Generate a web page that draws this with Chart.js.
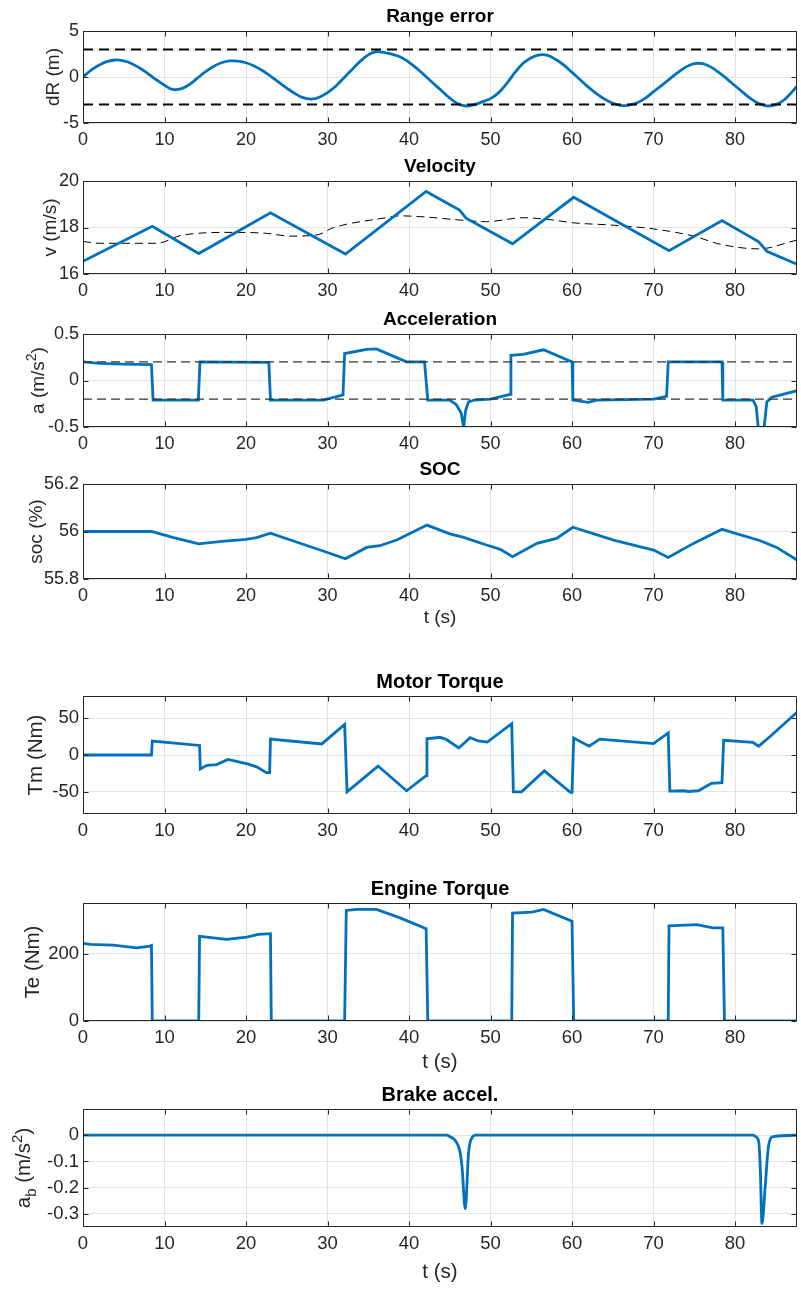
<!DOCTYPE html>
<html>
<head>
<meta charset="utf-8">
<script src="https://cdn.jsdelivr.net/npm/chart.js@4.4.1/dist/chart.umd.min.js"></script>
<style>
  html, body { margin: 0; padding: 0; background: #fff; }
  #fig { position: relative; width: 801px; height: 1290px; }
  #fig canvas { position: absolute; left: 0; }
</style>
</head>
<body>
<div id="fig"></div>
<script>
// ---- data ----
const T_MAX = 87.6;
const timeTicks = [0, 10, 20, 30, 40, 50, 60, 70, 80];

const rangeT = [0,1,2,3,4,5,6,7,8,9,10,11,12,13,14,15,16,17,18,19,20,21,22,23,24,25,26,27,28,29,30,31,32,33,34,35,36,37,38,39,40,41,42,43,44,45,46,47,48,49,50,51,52,53,54,55,56,57,58,59,60,61,62,63,64,65,66,67,68,69,70,71,72,73,74,75,76,77,78,79,80,81,82,83,84,85,86,87,87.6];
const rangeErr = [0,0.75,1.3,1.7,1.85,1.75,1.45,0.95,0.35,-0.3,-0.9,-1.35,-1.3,-0.85,-0.15,0.55,1.15,1.55,1.75,1.72,1.55,1.2,0.7,0.1,-0.55,-1.2,-1.8,-2.25,-2.4,-2.2,-1.7,-1.0,-0.1,0.8,1.7,2.4,2.75,2.65,2.45,2.15,1.6,0.9,0.1,-0.7,-1.5,-2.3,-2.9,-3.15,-3.0,-2.7,-2.35,-1.7,-0.7,0.5,1.5,2.1,2.4,2.35,1.9,1.3,0.5,-0.3,-1.1,-1.8,-2.4,-2.85,-3.1,-3.05,-2.8,-2.3,-1.6,-0.9,-0.2,0.5,1.1,1.45,1.45,1.1,0.5,-0.2,-0.95,-1.7,-2.4,-2.9,-3.15,-3.0,-2.5,-1.6,-1.0];
const rangeLimit = 3;
const rangeTicks = [-5, 0, 5];

const velT = [0, 8.5, 14.2, 23.0, 32.2, 42.1, 46.2, 47.0, 52.7, 60.2, 71.9, 78.4, 82.9, 83.9, 87.6];
const velocity = [16.55, 18.05, 16.88, 18.63, 16.86, 19.55, 18.75, 18.4, 17.3, 19.3, 17.0, 18.3, 17.38, 16.98, 16.42];
const velRefT = [0, 2.1, 9.0, 12.3, 18.4, 22.5, 25.4, 28.7, 30.7, 36.8, 38.9, 41.3, 47, 49.5, 54, 57, 60.2, 65, 70, 74.9, 78.2, 82.9, 87.6];
const velRef = [17.4, 17.32, 17.32, 17.68, 17.79, 17.75, 17.63, 17.68, 17.99, 18.4, 18.5, 18.47, 18.3, 18.25, 18.42, 18.35, 18.2, 18.1, 17.94, 17.63, 17.28, 17.08, 17.46];
const velTicks = [16, 18, 20];

const accT = [0, 2, 5, 8.4, 8.6, 14.15, 14.35, 22.8, 23.0, 29.5, 31.9, 32.1, 34.8, 36.0, 38.9, 39.7, 41.9, 42.3, 45.0, 45.8, 46.4, 46.7, 46.95, 47.3, 48, 50, 52.4, 52.5, 54, 56.5, 60.0, 60.1, 62, 63, 70, 71.6, 71.8, 78.4, 78.5, 82.2, 82.6, 82.9, 83.5, 83.9, 84.5, 87.6];
const accel = [0.2, 0.185, 0.175, 0.17, -0.21, -0.21, 0.2, 0.195, -0.21, -0.21, -0.155, 0.29, 0.335, 0.34, 0.23, 0.2, 0.2, -0.21, -0.21, -0.26, -0.35, -0.5, -0.32, -0.23, -0.21, -0.2, -0.15, 0.27, 0.28, 0.33, 0.2, -0.21, -0.235, -0.21, -0.2, -0.17, 0.2, 0.2, -0.21, -0.21, -0.28, -0.56, -0.56, -0.23, -0.18, -0.11];
const accelLimit = 0.2;
const accTicks = [-0.5, 0, 0.5];

const socT = [0, 8.4, 11, 14.2, 17, 20, 21.3, 23, 26, 29.1, 32.2, 34.8, 36.4, 38.5, 42.2, 45, 46.7, 49.5, 51.2, 52.7, 55.7, 58.1, 60.1, 65.1, 70, 71.8, 74.9, 78.4, 83.1, 85.1, 87.6];
const soc = [56.0, 56.0, 55.975, 55.948, 55.958, 55.967, 55.974, 55.993, 55.958, 55.922, 55.885, 55.933, 55.94, 55.964, 56.027, 55.99, 55.975, 55.943, 55.925, 55.894, 55.95, 55.971, 56.018, 55.964, 55.922, 55.891, 55.95, 56.009, 55.961, 55.933, 55.88];
const socTicks = [55.8, 56, 56.2];

const tmT = [0, 8.4, 8.5, 14.3, 14.4, 15.2, 16.4, 17.8, 20.3, 21.3, 22.5, 22.9, 23.0, 29.3, 32.1, 32.4, 36.2, 39.7, 42.1, 42.2, 43.8, 44.6, 46.1, 47.5, 48.5, 49.6, 52.6, 52.8, 53.8, 56.6, 59.8, 60.0, 60.2, 62.1, 63.4, 70, 71.8, 72.0, 73.7, 74.3, 75.5, 77.1, 78.4, 78.6, 82.2, 82.9, 84.3, 87.6];
const motorTorque = [0, 0, 19, 13, -19, -14, -13, -6, -12.5, -16, -24, -24, 21.5, 15, 41.5, -50, -15, -48.5, -28, 22, 24, 21, 9.5, 23.5, 19, 17.5, 42.5, -50, -50, -21.5, -50.5, -50.5, 23, 12, 21.5, 15.5, 30, -49, -48.5, -49.5, -48.5, -38.5, -37.5, 20, 17, 12, 25, 58];
const tmTicks = [-50, 0, 50];

const teT = [0, 0.9, 3.7, 6.6, 8.2, 8.4, 8.5, 14.2, 14.3, 17.6, 20.1, 21.5, 23.0, 23.1, 32.1, 32.3, 33.6, 36.0, 38.9, 42.1, 42.3, 52.6, 52.7, 55.1, 56.5, 60.0, 60.2, 71.8, 71.9, 75.3, 77.3, 78.5, 78.7, 87.6];
const engineTorque = [230, 227, 225, 217, 222, 224, 0, 0, 251, 242, 249, 257, 259, 0, 0, 328, 331, 331, 306, 274, 0, 0, 320, 323, 331, 296, 0, 0, 282, 286, 276, 276, 0, 0];
const teTicks = [0, 200];

const brakeT = [0, 44.6, 45.0, 45.6, 46.2, 46.5, 46.9, 47.3, 47.7, 48.2, 82.2, 82.5, 82.9, 83.1, 83.3, 83.7, 84.1, 84.7, 87.6];
const brakeAccel = [0, 0, -0.005, -0.018, -0.056, -0.12, -0.281, -0.068, -0.011, 0, 0, -0.005, -0.024, -0.13, -0.337, -0.195, -0.043, -0.005, 0];
const brakeTicks = [-0.3, -0.2, -0.1, 0];

// ---- styling ----
const BLUE = '#0072BD';
const AXIS = '#262626';
const GRID = '#e3e3e3';
const FONT = '"Liberation Sans", Arial, sans-serif';
const PAD_TOP = 30, XAXIS_H = 70;

function pts(ts, vs) { return ts.map((t, i) => ({ x: t, y: vs[i] })); }

function series(ts, vs, extra) {
  return Object.assign({
    data: pts(ts, vs), borderColor: BLUE, borderWidth: 2.8,
    pointRadius: 0, tension: 0, fill: false
  }, extra || {});
}

function hline(v, color, width, dash) {
  return {
    data: [{ x: 0, y: v }, { x: T_MAX, y: v }], borderColor: color,
    borderWidth: width, borderDash: dash, pointRadius: 0, fill: false
  };
}

// box, inward ticks, title and axis labels
const axesDeco = {
  id: 'axesDeco',
  afterDatasetsDraw(chart, args, o) {
    const { ctx, chartArea: a, scales } = chart;
    const L = Math.round(a.left) + 0.5, R = Math.round(a.right) - 0.5;
    const T = Math.round(a.top) + 0.5, B = Math.round(a.bottom) - 0.5;
    ctx.save();
    ctx.strokeStyle = AXIS;
    ctx.lineWidth = 1;
    ctx.beginPath();
    ctx.rect(L, T, R - L, B - T);
    const tl = 5;
    timeTicks.forEach(v => {
      const x = Math.round(scales.x.getPixelForValue(v)) + 0.5;
      ctx.moveTo(x, B); ctx.lineTo(x, B - tl);
      ctx.moveTo(x, T); ctx.lineTo(x, T + tl);
    });
    o.yticks.forEach(v => {
      const y = Math.round(scales.y.getPixelForValue(v)) + 0.5;
      ctx.moveTo(L, y); ctx.lineTo(L + tl, y);
      ctx.moveTo(R, y); ctx.lineTo(R - tl, y);
    });
    ctx.stroke();
    ctx.restore();
  },
  afterDraw(chart, args, o) {
    const { ctx, chartArea: a } = chart;
    const cx = (a.left + a.right) / 2;
    ctx.save();
    ctx.fillStyle = '#000';
    ctx.textAlign = 'center';
    ctx.textBaseline = 'middle';
    ctx.font = 'bold ' + o.titleSize + 'px ' + FONT;
    ctx.fillText(o.title, cx, a.top - 14);

    ctx.fillStyle = AXIS;
    if (o.xlabel) {
      ctx.font = o.labelSize + 'px ' + FONT;
      ctx.fillText(o.xlabel, cx, a.bottom + o.xlabelDy);
    }
    // rotated y label with optional super/subscripts
    const fs = o.labelSize;
    const parts = o.ylabel.map(p => {
      const small = p[1] === 'sup' || p[1] === 'sub';
      const f = (small ? Math.round(fs * 0.72) : fs) + 'px ' + FONT;
      ctx.font = f;
      return { text: p[0], kind: p[1], font: f, w: ctx.measureText(p[0]).width };
    });
    const total = parts.reduce((s, p) => s + p.w, 0);
    ctx.translate(o.ylabelX, (a.top + a.bottom) / 2);
    ctx.rotate(-Math.PI / 2);
    ctx.textAlign = 'left';
    ctx.textBaseline = 'alphabetic';
    let x = -total / 2;
    const base = fs * 0.36;
    parts.forEach(p => {
      ctx.font = p.font;
      let dy = 0;
      if (p.kind === 'sup') dy = -fs * 0.42;
      if (p.kind === 'sub') dy = fs * 0.25;
      ctx.fillText(p.text, x, base + dy);
      x += p.w;
    });
    ctx.restore();
  }
};

function makePanel(p, datasets) {
  const h = (p.bottom - p.top) + PAD_TOP + XAXIS_H;
  const canvas = document.createElement('canvas');
  canvas.width = 801; canvas.height = h;
  canvas.style.width = '801px'; canvas.style.height = h + 'px';
  canvas.style.top = (p.top - PAD_TOP) + 'px';
  document.getElementById('fig').appendChild(canvas);
  const tickFont = { family: FONT, size: p.tickSize };
  new Chart(canvas.getContext('2d'), {
    type: 'line',
    data: { datasets },
    options: {
      responsive: false,
      animation: false,
      events: [],
      layout: { padding: { top: PAD_TOP, right: 4, left: 0, bottom: 0 } },
      plugins: {
        legend: { display: false },
        tooltip: { enabled: false },
        axesDeco: {
          title: p.title, ylabel: p.ylabel, ylabelX: p.ylabelX, yticks: p.yticks,
          xlabel: p.xlabel, xlabelDy: p.xlabelDy, labelSize: p.labelSize, titleSize: p.titleSize
        }
      },
      scales: {
        x: {
          type: 'linear', min: 0, max: T_MAX,
          afterBuildTicks: s => { s.ticks = timeTicks.map(v => ({ value: v })); },
          afterFit: s => { s.height = XAXIS_H; },
          ticks: { font: tickFont, color: AXIS, padding: 6, maxRotation: 0, autoSkip: false },
          grid: { color: GRID, drawTicks: false },
          border: { display: false }
        },
        y: {
          type: 'linear', min: p.ymin, max: p.ymax,
          afterBuildTicks: s => { s.ticks = p.yticks.map(v => ({ value: v })); },
          afterFit: s => { s.width = 83; },
          ticks: {
            font: tickFont, color: AXIS, padding: 4, autoSkip: false,
            callback: v => String(+v.toFixed(3))
          },
          grid: { color: GRID, drawTicks: false },
          border: { display: false }
        }
      }
    },
    plugins: [axesDeco]
  });
}

const TOP_STYLE = { labelSize: 19, tickSize: 18, titleSize: 19 };
const BOT_STYLE = { labelSize: 20.5, tickSize: 18.5, titleSize: 20 };

makePanel(Object.assign({ top: 31, bottom: 123, ymin: -5, ymax: 5, yticks: rangeTicks, title: 'Range error',
  ylabel: [['dR (m)']], ylabelX: 52 }, TOP_STYLE),
  [hline(rangeLimit, '#000', 2, [10, 6]), hline(-rangeLimit, '#000', 2, [10, 6]),
   series(rangeT, rangeErr, { tension: 0.4 })]);

makePanel(Object.assign({ top: 181, bottom: 274, ymin: 16, ymax: 20, yticks: velTicks, title: 'Velocity',
  ylabel: [['v (m/s)']], ylabelX: 49 }, TOP_STYLE),
  [series(velT, velocity),
   series(velRefT, velRef, { borderColor: '#000', borderWidth: 1, borderDash: [8, 5], cubicInterpolationMode: 'monotone' })]);

makePanel(Object.assign({ top: 334, bottom: 427, ymin: -0.5, ymax: 0.5, yticks: accTicks, title: 'Acceleration',
  ylabel: [['a (m/s'], ['2', 'sup'], [')']], ylabelX: 37 }, TOP_STYLE),
  [hline(accelLimit, '#333', 1.3, [9, 5]), hline(-accelLimit, '#333', 1.3, [9, 5]),
   series(accT, accel)]);

makePanel(Object.assign({ top: 484, bottom: 579, ymin: 55.8, ymax: 56.2, yticks: socTicks, title: 'SOC',
  ylabel: [['soc (%)']], ylabelX: 35, xlabel: 't (s)', xlabelDy: 39 }, TOP_STYLE),
  [series(socT, soc)]);

makePanel(Object.assign({ top: 696, bottom: 814, ymin: -80, ymax: 80, yticks: tmTicks, title: 'Motor Torque',
  ylabel: [['Tm (Nm)']], ylabelX: 35 }, BOT_STYLE),
  [series(tmT, motorTorque)]);

makePanel(Object.assign({ top: 903, bottom: 1021, ymin: 0, ymax: 350, yticks: teTicks, title: 'Engine Torque',
  ylabel: [['Te (Nm)']], ylabelX: 32, xlabel: 't (s)', xlabelDy: 41 }, BOT_STYLE),
  [series(teT, engineTorque)]);

makePanel(Object.assign({ top: 1109, bottom: 1227, ymin: -0.35, ymax: 0.1, yticks: brakeTicks, title: 'Brake accel.',
  ylabel: [['a'], ['b', 'sub'], [' (m/s'], ['2', 'sup'], [')']], ylabelX: 23, xlabel: 't (s)', xlabelDy: 45 }, BOT_STYLE),
  [series(brakeT, brakeAccel, { cubicInterpolationMode: 'monotone' })]);
</script>
</body>
</html>
